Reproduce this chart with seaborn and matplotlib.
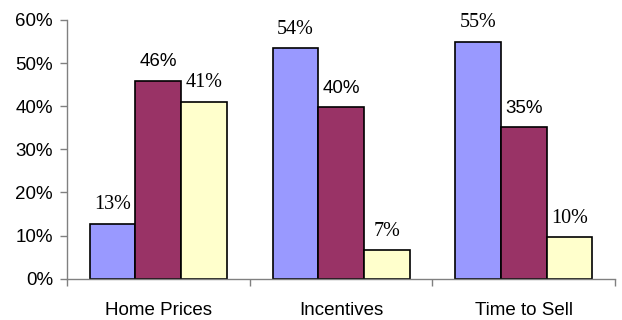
import matplotlib
matplotlib.use("Agg")
import matplotlib.pyplot as plt
import seaborn as sns
import pandas as pd
import numpy as np

# ---- data ----
categories = ["Home Prices", "Incentives", "Time to Sell"]
series_names = ["Series 1", "Series 2", "Series 3"]
values_s1 = [12.8, 53.4, 55.0]
values_s2 = [45.9, 39.8, 35.1]
values_s3 = [41.0, 6.6, 9.6]
labels_s1 = ["13%", "54%", "55%"]
labels_s2 = ["46%", "40%", "35%"]
labels_s3 = ["41%", "7%", "10%"]
y_ticks = [0, 10, 20, 30, 40, 50, 60]
y_tick_labels = ["0%", "10%", "20%", "30%", "40%", "50%", "60%"]

all_values = [values_s1, values_s2, values_s3]
all_labels = [labels_s1, labels_s2, labels_s3]

rows = []
for s, vals in zip(series_names, all_values):
    for c, v in zip(categories, vals):
        rows.append({"category": c, "series": s, "value": v})
df = pd.DataFrame(rows)

# ---- style ----
colors = ["#9999FF", "#993366", "#FFFFCC"]
label_fonts = [["Liberation Serif"], ["Liberation Sans"], ["Liberation Serif"]]
label_sizes = [14.5, 13.5, 14.5]
axis_color = "#808080"

sns.set_style("white")
plt.rcParams["font.family"] = ["Liberation Sans", "DejaVu Sans"]
plt.rcParams["text.color"] = "black"
plt.rcParams["xtick.labelcolor"] = "black"
plt.rcParams["ytick.labelcolor"] = "black"

fig = plt.figure(figsize=(6.22, 3.2), dpi=100)
ax = fig.add_axes([67 / 622, 1 - 278.7 / 320, (615 - 67) / 622, (278.7 - 20) / 320])

sns.barplot(data=df, x="category", y="value", hue="series", order=categories,
            hue_order=series_names, palette=colors, edgecolor="black",
            linewidth=1.2, width=0.75, gap=0, legend=False, ax=ax, saturation=1)

ax.set_xlim(-0.5, len(categories) - 0.5)
ax.set_ylim(0, 60)
ax.set_yticks(y_ticks)
ax.set_yticklabels(y_tick_labels, fontsize=13.5, color="black")
ax.set_xlabel("")
ax.set_ylabel("")

# x ticks: labels at centers, tick marks at boundaries
ax.set_xticks(range(len(categories)))
ax.set_xticklabels(categories, fontsize=13.5, color="black")
ax.set_xticks(np.arange(-0.5, len(categories), 1.0), minor=True)
ax.tick_params(axis="x", which="major", length=0, pad=17)
ax.tick_params(axis="x", which="minor", length=5, width=1, color=axis_color, direction="out", bottom=True)
ax.tick_params(axis="y", which="major", length=5, width=1, color=axis_color, direction="out", pad=5, left=True)

for side in ["top", "right"]:
    ax.spines[side].set_visible(False)
for side in ["left", "bottom"]:
    ax.spines[side].set_color(axis_color)
    ax.spines[side].set_linewidth(1.0)
ax.grid(False)

# value labels
for i, cont in enumerate(ax.containers):
    for bar, lab in zip(cont, all_labels[i]):
        x = bar.get_x() + bar.get_width() / 2
        y = bar.get_height()
        ax.annotate(lab, (x, y), xytext=(0, 10.5), textcoords="offset points",
                    ha="center", va="baseline", fontsize=label_sizes[i],
                    family=label_fonts[i], color="black", clip_on=False)

fig.savefig("out.png", dpi=100)
